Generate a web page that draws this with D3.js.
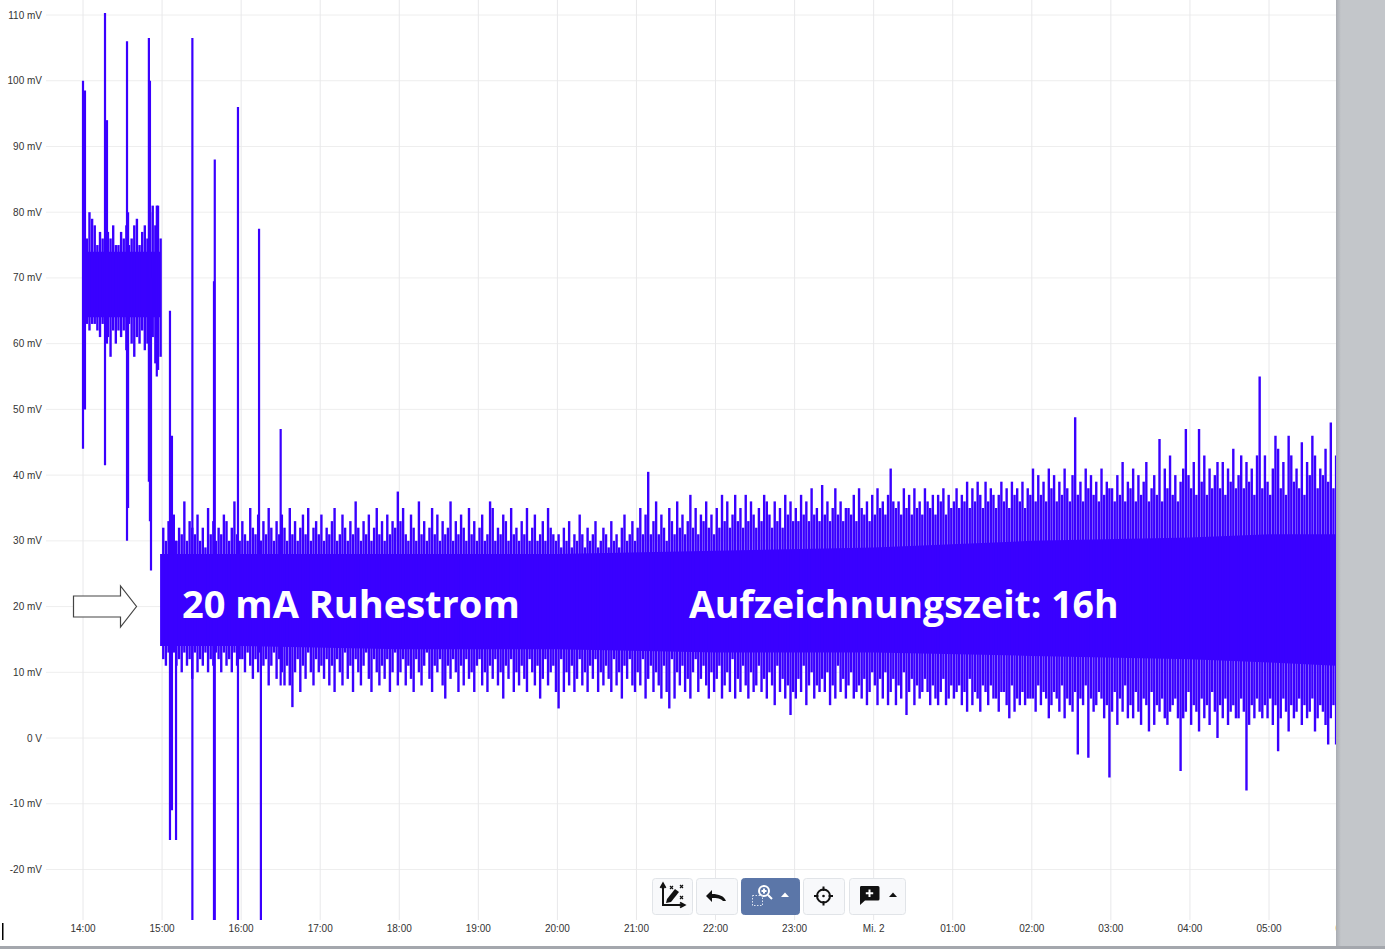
<!DOCTYPE html>
<html><head><meta charset="utf-8">
<script src="https://cdn.jsdelivr.net/npm/d3@7"></script>
<style>
html,body{margin:0;padding:0;background:#fff;overflow:hidden}
svg{display:block}
</style></head><body><svg id="c" width="1385" height="949"></svg>
<script>
const tickHours=[14,15,16,17,18,19,20,21,22,23,24,25,26,27,28,29,30];
const tickLabels=["14:00","15:00","16:00","17:00","18:00","19:00","20:00","21:00","22:00","23:00","Mi. 2","01:00","02:00","03:00","04:00","05:00","06:00"];
const yTicks=[110,100,90,80,70,60,50,40,30,20,10,0,-10,-20];
const yLabels=["110 mV","100 mV","90 mV","80 mV","70 mV","60 mV","50 mV","40 mV","30 mV","20 mV","10 mV","0 V","-10 mV","-20 mV"];
const stepMinutes=2;
const hi=[
78,76,80,79,78,75,77,76,74,77,76,78,75,75,77,76,78,75,76,78,79,75,77,78,76,80,81,78,81,76,
32,30,33,31,34,30,32,31,36,30,33,32,31,34,30,32,29,35,31,33,30,32,31,34,33,30,32,36,31,30,
33,31,30,35,32,31,34,30,33,31,35,32,30,33,31,34,32,30,35,31,33,30,32,34,31,35,30,32,33,31,
34,30,32,31,33,35,30,31,34,32,30,33,31,36,32,30,33,31,34,30,32,35,31,33,30,34,31,33,32,37.5,
33,35,31,30,34,32,30,36,31,33,30,32,35,31,34,30,33,31,32,36,30,33,31,34,32,30,35,31,33,30,
32,34,30,31,36,35,30,32,31,34,33,30,35,31,32,30,33,31,35,30,32,34,30,31,33,30,35,32,31,30,
31,29,32,30,33,29,31,30,34,31,29,32,30,31,33,29,30,32,31,29,33,30,31,29,32,34,30,31,33,30,
32,35,31,34,40.5,31,33,36,31,34,32,30,35,33,31,36,32,34,31,33,37,32,35,31,34,33,36,32,34,31,
35,32,37,33,36,32,34,37,33,35,32,37,33,36,34,32,35,33,37,36,34,32,36,33,35,32,37,34,36,33,
35,33,37,34,36,33,38,34,35,33,38.5,34,36,33,35,38,34,36,33,35,35,34,37,33,38,35,34,36,33,37,
34,38,35,36,34,37,41,36,35,36,34,38,35,37,34,38,35,36,34,38,36,35,37,34,37,36,38,34,37,35,
36,38,35,37,36,39,35,38,36,39,37,35,39,36,38,37,35,37,39,36,38,35,39,37,38,36,39,35,38,37,
41,36,40,37,39,36,41,38,40,36,39,37,41,38,36,40,48.8,37,39,36,41,38,40,37,39,36,41,37,39,38,
38,36,40,37,42,36,39,38,41,36,40,37,39,42,36,38,40,37,45.5,36,41,38,43,37,40,36,39,41,47,40,
38,42,37,47,39,43,37,41,38,40,42,38,42,37,41,39,44,38,40,43,38,42,39,41,37,43,55,38,43,39,
37,41,46,44,38,42,37,46,43,39,41,38,45,37,42,40,46,43,38,41,40,44,39,48,38,43
];
const lo=[
62,63,62,63,63,62,61,63,62,61,58,62,60,62,61,62,59,63,60,58,61,60,62,59,60,58,61,57,56,58,
12,11,13,10,13,11,12,10,13,11,12,9,13,10,12,11,13,10,12,11,13,12,10,13,11,12,10,13,11,12,
12,10,13,11,9,12,10,13,11,12,8,11,13,9,12,10,8,11,8,4.7,10,12,7,11,9,13,10,8,12,10,
11,9,12,8,11,7,12,10,8,13,9,11,7,12,10,8,11,13,9,7,12,10,8,11,9,12,7,10,13,8,
10,12,8,11,9,7,12,10,8,11,13,9,7,11,10,12,8,6,11,9,12,10,7,11,8,12,9,10,7,11,
12,8,10,7,11,9,12,8,10,6,11,9,12,7,10,8,11,9,7,12,10,8,11,6,9,12,8,10,11,7,
4.5,12,7,10,8,11,7,9,12,8,10,7,11,9,12,7,10,8,11,9,7,12,8,10,6,11,9,12,8,7,
10,8,12,6,9,11,7,10,8,6,11,7,4.5,12,6,10,8,11,7,9,6,10,12,7,9,11,8,6,10,7,
9,11,6,8,10,7,12,6,9,7,11,8,6,10,7,8,11,7,9,6,10,8,5,11,7,9,6,8,3.5,7,
6,9,7,11,5,8,10,6,8,7,9,7,10,5,8,6,11,7,9,6,8,10,6,7,8,6,9,5,7,10,
8,5,9,6,10,5,7,9,5,8,6,10,3.5,7,9,5,8,6,7,9,7,5,8,6,5,7,9,5,6,8,
6,7,8,5,7,4,9,5,7,6,4,8,7,5,8,6,6,4,7,7,5,3,8,4,6,5,7,5,6,6,
6,4,8,5,7,6,3,5,7,6,4,8,3,6,5,4,7,-2.5,6,5,8,-3,6,4,5,7,6,3,5,-6,
4,7,2,6,4,8,3,5,3,7,4,2,6,5,1,7,2,5,4,6,3,2,4,5,6,3,-5,3,4,7,
2,5,4,1,6,3,5,2,7,4,0,5,3,6,2,4,5,3,3,6,4,-8,2,5,3,6,4,3,5,3,
6,2,5,-2,3,6,4,1,5,3,4,6,2,5,3,4,6,1,3,5,4,2,-1,3,5,-1
];
const spikeMinutes=[0,1.5,16.7,18.2,33.4,34.2,50,50.8,51.6,56,66,67.5,70.6,83,99.4,100,117.6,133.6,135,150];
const spikeHi=[100,98.5,110.3,94,106,80,106.5,100,70,81,65,46,30,106.5,69.5,88,96,77.5,30,47];
const spikeLo=[44,50,41.5,60,30,35,39,33,25.5,55,-15.5,-11,-15.5,-28,-28,-28,-28,13,-28,8];
const coreMinutes=[0,58.5,58.5,120,240,360,480,600,720,840,900,951];
const coreHi=[74,74,28,28,28,28,28.5,29,30,30.5,31,31];
const coreLo=[64,64,14,14,13.5,13.5,13,13,12.5,12,11.5,11];
const title1="20 mA Ruhestrom", title2="Aufzeichnungszeit: 16h";

const svg=d3.select("#c");
const x=d3.scaleLinear().domain([14,29]).range([83,1269]);
const y=d3.scaleLinear().domain([110,-20]).range([15,869.5]);
const hOf=m=>14+m/60;
const P=[46,1336], B=920;
svg.append("rect").attr("width",1385).attr("height",949).attr("fill","#fff");
svg.append("defs").append("clipPath").attr("id","pl").append("rect").attr("x",46).attr("y",0).attr("width",1290).attr("height",B);

const g=svg.append("g");
g.selectAll(".gy").data(yTicks).join("line").attr("x1",P[0]).attr("x2",P[1]).attr("y1",d=>y(d)).attr("y2",d=>y(d)).attr("stroke","#eeeeee");
g.selectAll(".gx").data(tickHours).join("line").attr("x1",d=>x(d)).attr("x2",d=>x(d)).attr("y1",0).attr("y2",B).attr("stroke","#e8e8ea");
const txt="'Liberation Sans',Arial,sans-serif";
g.selectAll(".ly").data(yTicks).join("text").attr("x",42).attr("y",d=>y(d)+3.5).attr("text-anchor","end").attr("font-family",txt).attr("font-size",10).attr("fill","#333").text((d,i)=>yLabels[i]);
g.selectAll(".lx").data(tickHours).join("text").attr("x",d=>x(d)).attr("y",932).attr("text-anchor","middle").attr("font-family",txt).attr("font-size",10).attr("fill","#333").text((d,i)=>tickLabels[i]);

const col="#3a00ff";
const plot=svg.append("g").attr("clip-path","url(#pl)");
const area=d3.area().x(d=>x(hOf(d))).y0((d,i)=>y(coreLo[i])).y1((d,i)=>y(coreHi[i]));
plot.append("path").attr("d",area(coreMinutes)).attr("fill",col);
plot.selectAll(".s").data(hi).join("line")
 .attr("x1",(d,i)=>x(hOf(i*stepMinutes))+1.2).attr("x2",(d,i)=>x(hOf(i*stepMinutes))+1.2)
 .attr("y1",d=>y(d)).attr("y2",(d,i)=>y(lo[i])).attr("stroke",col).attr("stroke-width",2.4);
plot.selectAll(".k").data(spikeMinutes).join("line")
 .attr("x1",d=>x(hOf(d))).attr("x2",d=>x(hOf(d)))
 .attr("y1",(d,i)=>y(spikeHi[i])).attr("y2",(d,i)=>y(spikeLo[i])).attr("stroke",col).attr("stroke-width",2.2);

const tf="'Open Sans','Noto Sans',sans-serif";
[[182,title1,38],[689,title2,37.4]].forEach(([px,t,fs])=>svg.append("text").attr("x",px).attr("y",618).attr("font-family",tf).attr("font-weight",700).attr("font-size",fs).attr("fill","#fff").text(t));

svg.append("path").attr("d","M73.5,596 H120.5 V586 L136.5,606.5 L120.5,627 V617 H73.5 Z").attr("fill","#fff").attr("stroke","#444").attr("stroke-width",1.2);

// toolbar
const btn=[[652,40,"#f8f9fb"],[696,41,"#f8f9fb"],[741,58,"#5b76a8"],[803,41,"#f8f9fb"],[849,56,"#f8f9fb"]];
btn.forEach(b=>svg.append("rect").attr("x",b[0]+.5).attr("y",878.5).attr("width",b[1]).attr("height",36).attr("rx",3).attr("fill",b[2]).attr("stroke",b[2]=="#5b76a8"?b[2]:"#e1e4e8"));
const ic="#111";
svg.append("path").attr("d","M663,885 V905 H683 M660.5,888 L663,883.5 L665.5,888 M680,902.5 L684.5,905 L680,907.5").attr("fill","none").attr("stroke",ic).attr("stroke-width",2);
svg.append("path").attr("d","M667,899 L675,889 L679,892 L671,902 L666,903 Z").attr("fill",ic);
svg.append("path").attr("d","M670,886 l3,3 m0,-3 l-3,3 M680,885 l3,3 m0,-3 l-3,3 M680,896 l3,3 m0,-3 l-3,3").attr("stroke",ic).attr("stroke-width",1.2);
svg.append("path").attr("d","M706,896 L712,890 V894 C719,894 724,896 726,901 L723,901 C721,898.500 717,898 712,898 V902 Z").attr("fill",ic);
svg.append("circle").attr("cx",764).attr("cy",891).attr("r",5).attr("fill","none").attr("stroke","#fff").attr("stroke-width",2);
svg.append("path").attr("d","M768,895 L772,899 M761.5,891 H766.5 M764,888.5 V893.5").attr("stroke","#fff").attr("stroke-width",2);
svg.append("rect").attr("x",752.5).attr("y",895.5).attr("width",10).attr("height",10).attr("fill","none").attr("stroke","#dfe5f0").attr("stroke-dasharray","1.5 1.5");
svg.append("path").attr("d","M781,897 L785,892.5 L789,897 Z").attr("fill","#fff");
svg.append("circle").attr("cx",823.5).attr("cy",896).attr("r",6.5).attr("fill","none").attr("stroke",ic).attr("stroke-width",2);
svg.append("path").attr("d","M823.5,886.5 V891 M823.5,901 V905.5 M814,896 H818.5 M828.5,896 H833").attr("stroke",ic).attr("stroke-width",2);
svg.append("circle").attr("cx",823.5).attr("cy",896).attr("r",1.3).attr("fill",ic);
svg.append("path").attr("d","M861,886 H878 a1.5,1.5 0 0 1 1.5,1.5 V899 a1.5,1.5 0 0 1 -1.5,1.5 H865 L860,905 V887.500 a1.5,1.5 0 0 1 1,-1.5 Z").attr("fill",ic);
svg.append("path").attr("d","M869.5,889.5 V897 M865.8,893.2 H873.2").attr("stroke","#fff").attr("stroke-width",2);
svg.append("path").attr("d","M889,897 L893,892.5 L897,897 Z").attr("fill",ic);

// window chrome
const sh=d3.select("svg defs").append("linearGradient").attr("id","sd");
sh.append("stop").attr("offset",0).attr("stop-color","#a9acb2");
sh.append("stop").attr("offset",1).attr("stop-color","#c3c6ca");
svg.append("rect").attr("x",1336).attr("y",0).attr("width",49).attr("height",949).attr("fill","#c3c6ca");
svg.append("rect").attr("x",1336).attr("y",0).attr("width",5).attr("height",949).attr("fill","url(#sd)");
svg.append("rect").attr("x",0).attr("y",946).attr("width",1385).attr("height",3).attr("fill","#a4a7ad");
svg.append("rect").attr("x",2).attr("y",923).attr("width",1.5).attr("height",17).attr("fill","#000");
</script></body></html>
